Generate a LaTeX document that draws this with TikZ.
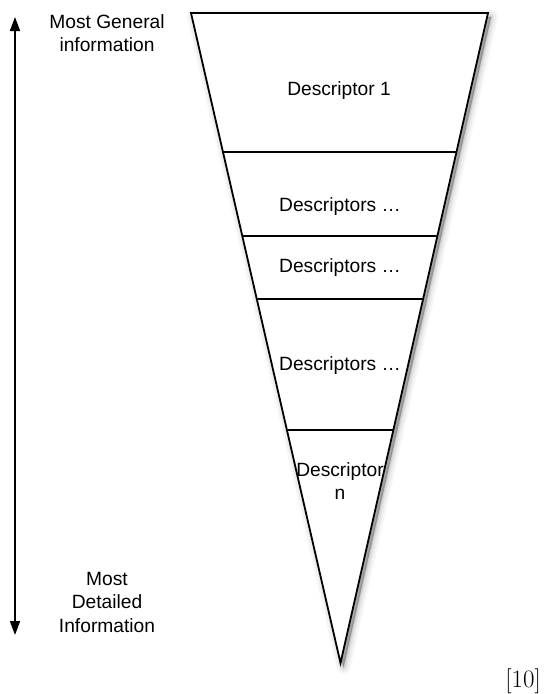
\documentclass[tikz,border=0pt]{standalone}
\usepackage{fontspec}
\newfontfamily\helv{Liberation Sans}
\usetikzlibrary{calc,arrows.meta}
\tikzset{
  lbl/.style={font=\helv\fontsize{19.2}{23.5}\selectfont, align=center, inner sep=0pt},
  edge/.style={line width=1.8pt, line join=miter},
  band/.style={line width=1.5pt},
  shadowlayer/.style={draw=black, fill=black, line join=round}
}
\begin{document}
\begin{tikzpicture}[x=1pt,y=-1pt]
\useasboundingbox (0,0) rectangle (545,694);
% corners of the inverted triangle
\coordinate (tl) at (191,13);
\coordinate (tr) at (488,13);
\coordinate (ap) at (340.5,663);
% soft shadow
\foreach \w/\o in {14/0.03,10/0.04,6/0.05,3/0.07,1/0.1}{
  \draw[shadowlayer, line width=\w pt, opacity=\o] ([shift={(3,4)}]tl) -- ([shift={(3,4)}]tr) -- ([shift={(3,4)}]ap) -- cycle;
}
\filldraw[edge, fill=white] (tl) -- (tr) -- (ap) -- cycle;
% band boundaries
\foreach \t [count=\i] in {0.2138,0.3431,0.4400,0.6415}{
  \coordinate (l\i) at ($(tl)!\t!(ap)$);
  \coordinate (r\i) at ($(tr)!\t!(ap)$);
  \draw[band] (l\i) -- (r\i);
}
% labels
\node[lbl] (d1) at (339,91) {Descriptor 1};
\node[lbl] (d2) at (340,207) {Descriptors …};
\node[lbl] (d3) at (340,268) {Descriptors …};
\node[lbl] (d4) at (340,366) {Descriptors …};
\node[lbl] (dn) at (340,481) {Descriptor\\n};
% side arrow
\coordinate (atop) at (15,17);
\coordinate (abot) at (15,635);
\draw[line width=1.6pt, {Triangle[width=10pt,length=14pt]}-{Triangle[width=10pt,length=14pt]}] (atop) -- (abot);
\node[lbl] (gen) at (107,33) {Most General\\information};
\node[lbl] (det) at (107,602) {Most\\Detailed\\Information};
% reference
\node[font=\fontsize{25}{30}\selectfont, anchor=base east, inner sep=0pt] (ref) at (541,687) {[10]};
\end{tikzpicture}
\end{document}
